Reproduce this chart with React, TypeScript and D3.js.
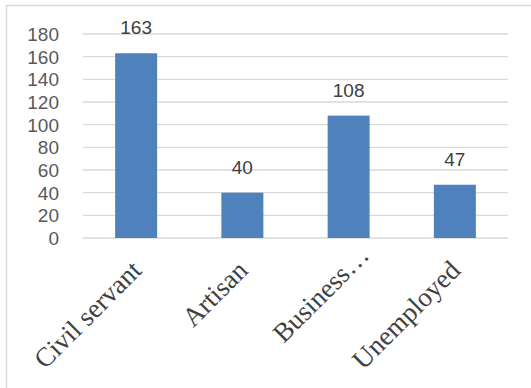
import React from "react";
import * as d3 from "d3";

const categories = ["Civil servant", "Artisan", "Business\u2026", "Unemployed"];
const values = [163, 40, 108, 47];
const yTicks = [0, 20, 40, 60, 80, 100, 120, 140, 160, 180];

export default function App() {
  const W = 531, H = 388;
  const x = d3.scaleBand<string>().domain(categories).range([83, 508]).paddingInner(0.605).paddingOuter(0.3025);
  const y = d3.scaleLinear().domain([0, 180]).range([238, 34]);
  const font = "'Liberation Sans', Arial, sans-serif";
  return (
    <svg width={W} height={H} style={{ position: "absolute", left: 0, top: 0, background: "#fff" }}>
      <rect x={0} y={0} width={W} height={H} fill="#fff" />
      <line x1={6} x2={W} y1={5.5} y2={5.5} stroke="#d9d9d9" strokeWidth={1.5} />
      <line x1={6.5} x2={6.5} y1={5} y2={H} stroke="#d9d9d9" strokeWidth={1.5} />
      {yTicks.map((t) => (
        <g key={t}>
          <line x1={83} x2={508} y1={y(t)} y2={y(t)} stroke="#d9d9d9" strokeWidth={1.3} />
          <text x={59} y={y(t)} dy="0.36em" textAnchor="end" fontFamily={font} fontSize={19} fill="#595959">{t}</text>
        </g>
      ))}
      {categories.map((c, i) => {
        const cx = x(c)! + x.bandwidth() / 2;
        const ell = c.endsWith("\u2026");
        const px = cx + (ell ? 22 : 7);
        const py = ell ? 257 : 272;
        return (
          <g key={c}>
            <rect x={x(c)} y={y(values[i])} width={x.bandwidth()} height={y(0) - y(values[i])} fill="#4f81bd" />
            <text x={cx} y={y(values[i]) - 19} textAnchor="middle" fontFamily={font} fontSize={19} fill="#404040">{values[i]}</text>
            <text transform={`translate(${px},${py}) rotate(-45)`} textAnchor="end" fontFamily="'Liberation Serif', 'Times New Roman', serif" fontSize={27} fill="#404040">{c}</text>
          </g>
        );
      })}
    </svg>
  );
}
